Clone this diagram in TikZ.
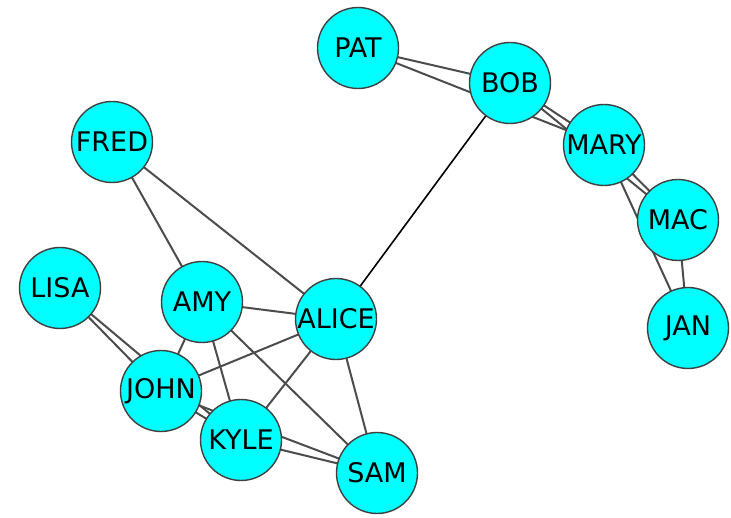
\documentclass[tikz,border=0pt]{standalone}
\usepackage{fontspec}
\setmainfont{DejaVu Sans}
\usetikzlibrary{backgrounds}
\definecolor{nodecyan}{RGB}{0,255,255}

\begin{document}
\begin{tikzpicture}[
    x=1pt, y=-1pt,
    every node/.style={align=center},
    person/.style={circle, minimum size=81pt, inner sep=0pt, draw=black!75, line width=1.4pt, fill=nodecyan, font=\fontsize{27}{27}\selectfont},
    link/.style={draw=black!70, line width=2pt},
    bridge/.style={draw=black, line width=1.6pt}
]
\useasboundingbox (0,0) rectangle (731,518);

% Right group
\node (pat) [person] at (358,48) {PAT};
\node (bob) [person] at (510,83) {BOB};
\node (mary) [person] at (604,145) {MARY};
\node (mac) [person] at (678,220) {MAC};
\node (jan) [person] at (688,328) {JAN};

% Left group
\node (fred) [person] at (112,142) {FRED};
\node (lisa) [person] at (60,288) {LISA};
\node (amy) [person] at (202,302) {AMY};
\node (alice) [person] at (336,319) {ALICE};
\node (john) [person] at (161,391) {JOHN};
\node (kyle) [person] at (241,440) {KYLE};
\node (sam) [person] at (377,473) {SAM};

% Edges, drawn centre to centre behind the nodes
\begin{scope}[on background layer]
\draw [link] (pat.center) -- (bob.center);
\draw [link] (pat.center) -- (mary.center);
\draw [link] (bob.center) -- (mary.center);
\draw [link] (bob.center) -- (mac.center);
\draw [link] (mary.center) -- (mac.center);
\draw [link] (mary.center) -- (jan.center);
\draw [link] (mac.center) -- (jan.center);

\draw [link] (fred.center) -- (amy.center);
\draw [link] (fred.center) -- (alice.center);
\draw [link] (lisa.center) -- (john.center);
\draw [link] (lisa.center) -- (kyle.center);
\draw [link] (amy.center) -- (alice.center);
\draw [link] (amy.center) -- (john.center);
\draw [link] (amy.center) -- (kyle.center);
\draw [link] (amy.center) -- (sam.center);
\draw [link] (alice.center) -- (john.center);
\draw [link] (alice.center) -- (kyle.center);
\draw [link] (alice.center) -- (sam.center);
\draw [link] (john.center) -- (kyle.center);
\draw [link] (john.center) -- (sam.center);
\draw [link] (kyle.center) -- (sam.center);

% the one tie between the groups
\draw [bridge] (bob.center) -- (alice.center);
\end{scope}

\end{tikzpicture}
\end{document}
